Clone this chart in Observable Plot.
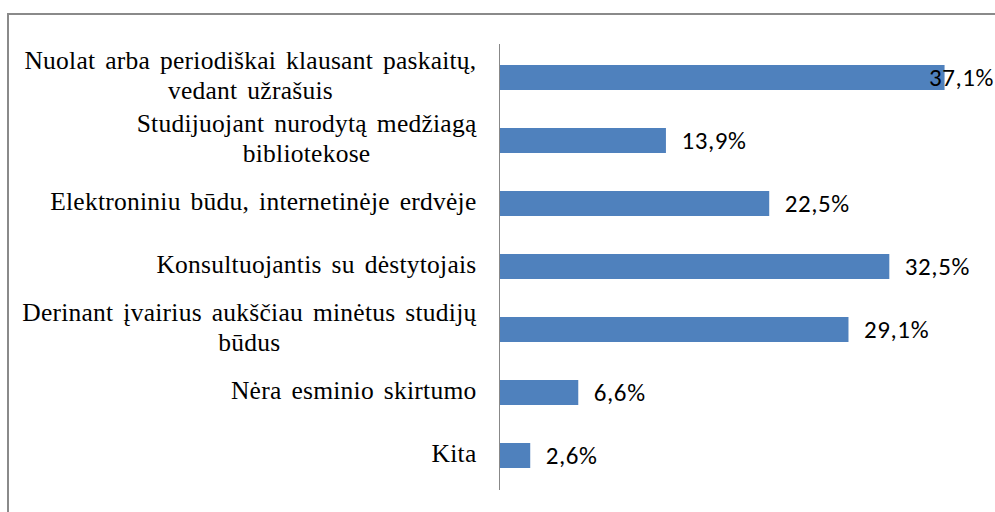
<!DOCTYPE html>
<html><head><meta charset="utf-8">
<script src="https://cdn.jsdelivr.net/npm/d3@7"></script>
<script src="https://cdn.jsdelivr.net/npm/@observablehq/plot@0.6"></script>
<style>
body{margin:0;background:#fff;overflow:hidden}
#wrap{position:relative;width:995px;height:512px;overflow:hidden}
#frame{position:absolute;left:7px;top:13px;width:1100px;height:700px;border-top:2px solid #8a8a8a;border-left:2px solid #8a8a8a;pointer-events:none}
#chart{position:absolute;left:0;top:0}
</style></head><body>
<div id="wrap"><div id="frame"></div><div id="chart"></div></div>
<script>
const categories = [
  "Nuolat arba periodiškai klausant paskaitų,\nvedant užrašuis",
  "Studijuojant nurodytą medžiagą\nbibliotekose",
  "Elektroniniu būdu, internetinėje erdvėje",
  "Konsultuojantis su dėstytojais",
  "Derinant įvairius aukščiau minėtus studijų\nbūdus",
  "Nėra esminio skirtumo",
  "Kita"
];
const values = [37.1, 13.9, 22.5, 32.5, 29.1, 6.6, 2.6];

const data = categories.map((c, i) => ({category: c, value: values[i]}));
const fmt = v => v.toFixed(1).replace(".", ",") + "%";

const labelFont = "Liberation Serif";
const valueFont = "Carlito";
const labelSize = 25.5;
const valueSize = 25;
const letterSpacing = 0.25;
const wordSpacing = 3.3;
const lineGap = 30;
const labelGap = 23;

// measure label lines (including extra spacing) to centre multi-line labels
const ctx = document.createElement("canvas").getContext("2d");
ctx.font = `${labelSize}px "${labelFont}"`;
const measure = s => ctx.measureText(s).width + letterSpacing * s.length + wordSpacing * (s.split(" ").length - 1);

const labelMarks = [];
data.forEach(d => {
  const lines = d.category.split("\n");
  const blockW = Math.max(...lines.map(measure));
  lines.forEach((line, j) => {
    labelMarks.push(Plot.text([d], {
      y: "category",
      frameAnchor: "left",
      text: () => line,
      textAnchor: "middle",
      dx: -(labelGap + blockW / 2),
      dy: (j - (lines.length - 1) / 2) * lineGap - 2.5,
      fontFamily: labelFont,
      fontSize: labelSize,
      fill: "#000"
    }));
  });
});

const chart = Plot.plot({
  width: 995,
  height: 512,
  marginLeft: 499,
  marginRight: 0,
  marginTop: 44,
  marginBottom: 22,
  x: {domain: [0, 41.3], axis: null},
  y: {domain: categories, paddingInner: 0.6, paddingOuter: 0.3, axis: null},
  style: {background: "transparent", overflow: "visible"},
  marks: [
    Plot.barX(data, {x: "value", y: "category", fill: "#4F81BD"}),
    Plot.ruleX([0], {stroke: "#888", strokeWidth: 1}),
    ...labelMarks,
    Plot.text(data, {
      x: "value", y: "category", text: d => fmt(d.value),
      textAnchor: "start", dx: 15, fontFamily: valueFont, fontSize: valueSize, fill: "#000"
    })
  ]
});
document.getElementById("chart").appendChild(chart);

chart.querySelectorAll("text").forEach(t => {
  const isValue = /%$/.test(t.textContent);
  if (isValue) {
    t.style.letterSpacing = "0.6px";
    const b = t.getBBox();
    const ctm = t.getCTM();
    const right = ctm.e + (b.x + b.width) * ctm.a;
    if (right > 994) t.setAttribute("dx", -(right - 994));
  } else {
    t.style.letterSpacing = letterSpacing + "px";
    t.style.wordSpacing = wordSpacing + "px";
  }
});
</script>
</body></html>
